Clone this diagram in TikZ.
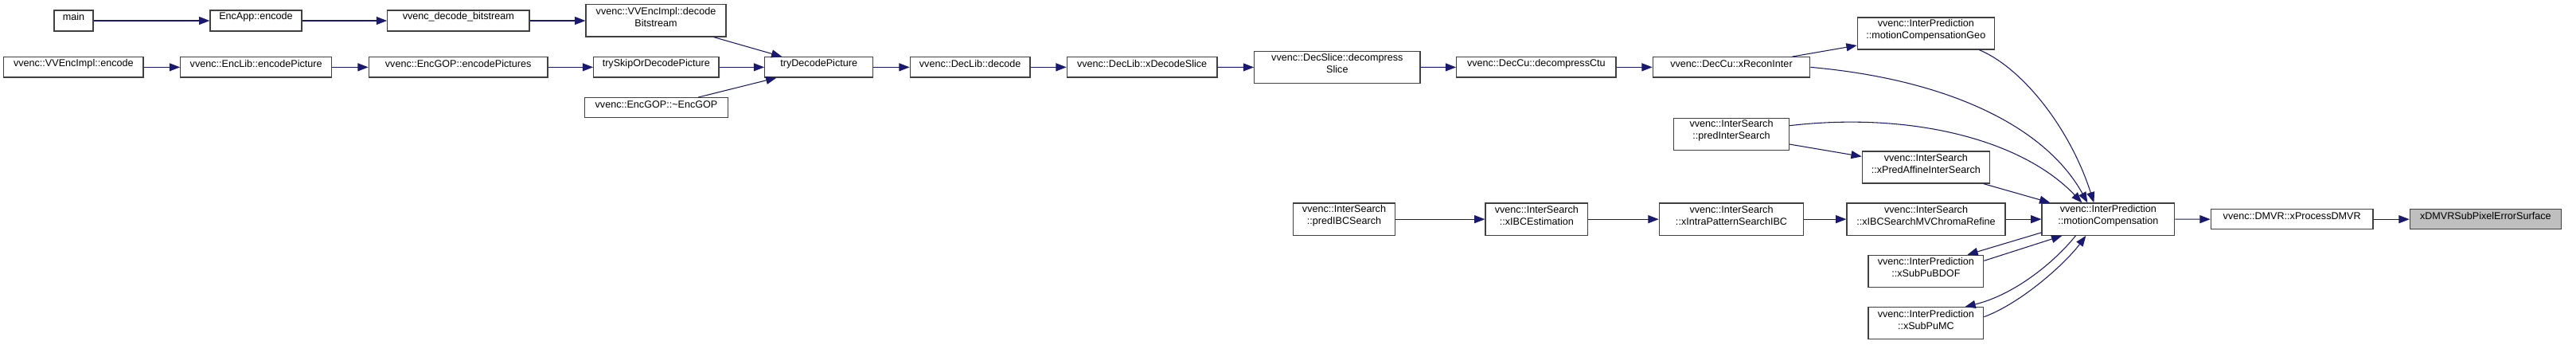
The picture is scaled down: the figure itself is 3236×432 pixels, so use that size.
\documentclass[tikz,border=0pt]{standalone}
\usepackage{fontspec}
\setmainfont{Liberation Sans}
\usetikzlibrary{arrows.meta,calc,fit}
\definecolor{edgeblue}{HTML}{191970}
\definecolor{nodeborder}{HTML}{404040}
\definecolor{hilite}{HTML}{BFBFBF}
\begin{document}
\begin{tikzpicture}[x=0.75pt,y=-0.75pt,
  box/.style={draw=nodeborder,line width=0.9pt,fill=white,inner sep=0pt,align=center,
    font=\fontsize{9.45}{11.25}\selectfont},
  lbox/.style={box,align=left},
  edge/.style={draw=edgeblue,line width=0.8pt,-{Triangle[length=10pt,width=7.5pt]}}]
\useasboundingbox (0,0) rectangle (3236,432);
% nodes
\node[box,fit={(68,13)(117,39)}] (main) {main};
\node[box,fit={(264,13)(379,39)}] (encapp) {EncApp::encode};
\node[box,fit={(486.7,13)(665,39)}] (decbs) {vvenc\_decode\_bitstream};
\node[box,fit={(4.7,71.7)(180,97)}] (vvencenc) {vvenc::VVEncImpl::encode};
\node[box,fit={(226.7,71.7)(416.7,97)}] (enclib) {vvenc::EncLib::encodePicture};
\node[box,fit={(463.3,71.7)(688,97)}] (encgop) {vvenc::EncGOP::encodePictures};
\node[box,fit={(736,5.7)(912,46)}] (decodebs) {vvenc::VVEncImpl::decode\\Bitstream};
\node[box,fit={(745.7,71.7)(903,97)}] (tryskip) {trySkipOrDecodePicture};
\node[box,fit={(734.7,122.7)(914.3,147.7)}] (dtor) {vvenc::EncGOP::\textasciitilde EncGOP};
\node[box,fit={(960.7,71.7)(1096.7,97)}] (trydec) {tryDecodePicture};
\node[box,fit={(1143.3,71.7)(1294,97)}] (decode) {vvenc::DecLib::decode};
\node[box,fit={(1340.3,71.7)(1529,97)}] (xdecslice) {vvenc::DecLib::xDecodeSlice};
\node[box,fit={(1575.7,64.7)(1784,104.3)}] (decompslice) {vvenc::DecSlice::decompress\\Slice};
\node[box,fit={(1829.7,71.7)(2030,97)}] (decompctu) {vvenc::DecCu::decompressCtu};
\node[box,fit={(2076.3,71.7)(2273.7,97)}] (xrecon) {vvenc::DecCu::xReconInter};
\node[box,fit={(2102.7,148.7)(2247.3,188.7)}] (predinter) {vvenc::InterSearch\\::predInterSearch};
\node[lbox,fit={(2333.3,22)(2505.3,62)}] (mcgeo) {vvenc::InterPrediction\\::motionCompensationGeo};
\node[lbox,fit={(2339.3,190)(2499.3,230)}] (affine) {vvenc::InterSearch\\::xPredAffineInterSearch};
\node[box,fit={(1624.3,255)(1752.7,295.3)}] (predibc) {vvenc::InterSearch\\::predIBCSearch};
\node[box,fit={(1866,255)(1994.7,295.3)}] (xibcest) {vvenc::InterSearch\\::xIBCEstimation};
\node[lbox,fit={(2084.3,255)(2265.7,295.3)}] (xintra) {vvenc::InterSearch\\::xIntraPatternSearchIBC};
\node[lbox,fit={(2320,255)(2519,295.3)}] (chroma) {vvenc::InterSearch\\::xIBCSearchMVChromaRefine};
\node[lbox,fit={(2565,255)(2731.7,295.3)}] (mc) {vvenc::InterPrediction\\::motionCompensation};
\node[box,fit={(2347,320.3)(2491.7,360.3)}] (bdof) {vvenc::InterPrediction\\::xSubPuBDOF};
\node[box,fit={(2347,385.7)(2491.7,425.7)}] (submc) {vvenc::InterPrediction\\::xSubPuMC};
\node[box,fit={(2777.3,262.7)(2981,287.7)}] (dmvr) {vvenc::DMVR::xProcessDMVR};
\node[box,fill=hilite,fit={(3027.3,262.7)(3217.3,287.7)}] (target) {xDMVRSubPixelErrorSurface};
% edges
\draw[edge] (main) -- (encapp);
\draw[edge] (encapp) -- (decbs);
\draw[edge] (decbs.east) -- (decodebs.west |- decbs.east);
\draw[edge] (vvencenc) -- (enclib);
\draw[edge] (enclib) -- (encgop);
\draw[edge] (encgop) -- (tryskip);
\draw[edge] (decodebs) -- (trydec);
\draw[edge] (tryskip) -- (trydec);
\draw[edge] (dtor) -- (trydec);
\draw[edge] (trydec) -- (decode);
\draw[edge] (decode) -- (xdecslice);
\draw[edge] (xdecslice) -- (decompslice);
\draw[edge] (decompslice) -- (decompctu);
\draw[edge] (decompctu) -- (xrecon);
\draw[edge] (xrecon) -- (mcgeo);
\draw[edge] (xrecon.east) .. controls (2450,100) and (2570,160) .. ($(mc.north)+(-26,0)$);
\draw[edge] ($(mcgeo.south)+(67,0)$) .. controls (2540,85) and (2600,160) .. ($(mc.north)+(-18,0)$);
\draw[edge] ($(predinter.east)+(0,-11)$) .. controls (2400,140) and (2540,175) .. ($(mc.north)+(-33,0)$);
\draw[edge] (predinter) -- (affine);
\draw[edge] (affine) -- (mc);
\draw[edge] (predibc) -- (xibcest);
\draw[edge] (xibcest) -- (xintra);
\draw[edge] (xintra) -- (chroma);
\draw[edge] (chroma) -- (mc);
\draw[edge] ($(mc.south west)+(0,-4)$) -- ($(bdof.north)+(52,0)$);
\draw[edge] ($(bdof.east)+(0,-13)$) -- ($(mc.south)+(-58,0)$);
\draw[edge] ($(mc.south)+(-41,0)$) .. controls (2580,330) and (2530,370) .. ($(submc.north)+(49,0)$);
\draw[edge] ($(submc.east)+(0,-8)$) .. controls (2540,380) and (2595,330) .. ($(mc.south)+(-28,0)$);
\draw[edge] (mc) -- (dmvr);
\draw[edge] (dmvr) -- (target);
\end{tikzpicture}
\end{document}
